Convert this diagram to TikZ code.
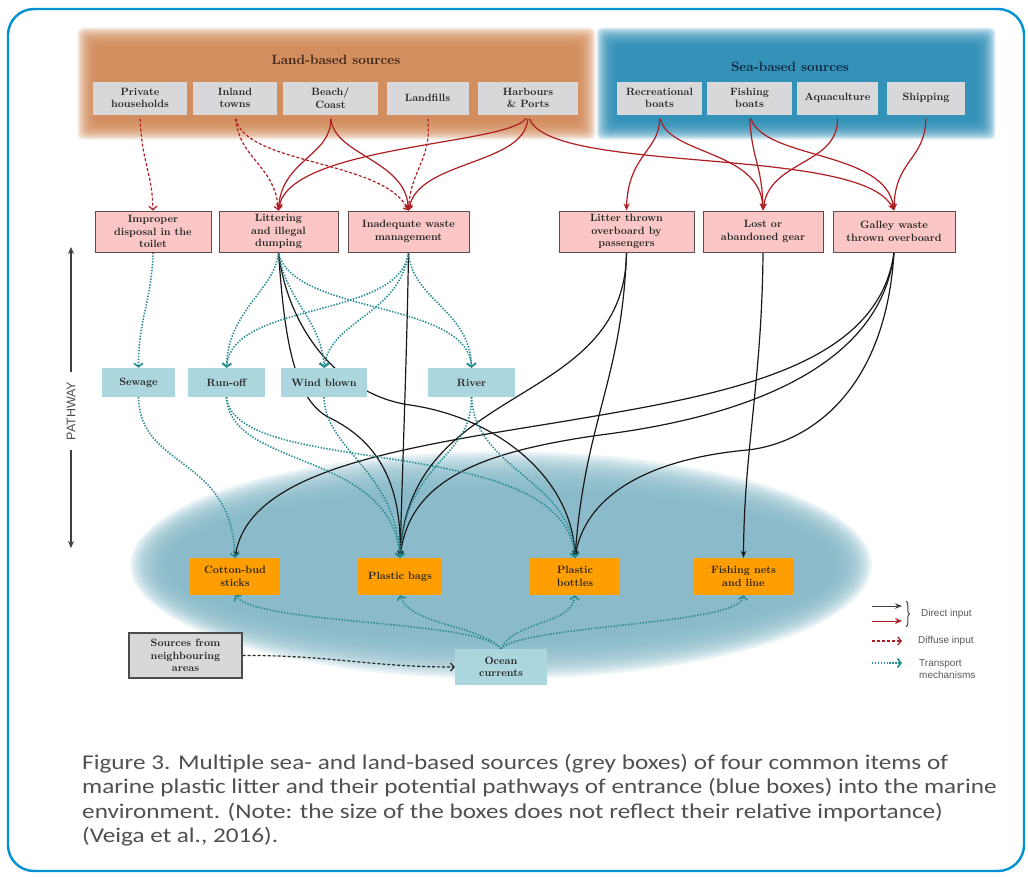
\documentclass[tikz,border=0pt]{standalone}
\usepackage{fontspec}
\usetikzlibrary{arrows.meta,decorations.pathreplacing}
\newfontfamily\capfont[FakeStretch=1.2]{Carlito}
\newfontfamily\legfont{Liberation Sans}
\definecolor{landc}{RGB}{210,138,88}
\definecolor{seac}{RGB}{42,142,182}
\definecolor{greyb}{RGB}{216,216,218}
\definecolor{pinkb}{RGB}{250,198,198}
\definecolor{pinkd}{RGB}{95,75,75}
\definecolor{pathb}{RGB}{172,214,222}
\definecolor{itemb}{RGB}{255,158,0}
\definecolor{ellc}{RGB}{135,187,202}
\definecolor{redl}{RGB}{175,30,35}
\definecolor{teall}{RGB}{40,140,145}
\definecolor{framec}{RGB}{0,145,210}
\definecolor{captc}{RGB}{80,80,80}
\definecolor{landt}{RGB}{60,35,20}
\definecolor{seat}{RGB}{15,35,60}
\newcommand\boxfont{\fontsize{10.6}{12.5}\selectfont\bfseries}
\pgfdeclarelayer{glow}
\pgfdeclarelayer{lines}
\pgfsetlayers{glow,lines,main}
\begin{document}
\begin{tikzpicture}[x=1pt,y=-1pt,
  box/.style={inner sep=1pt, align=center, font=\boxfont, text=black!85},
  src/.style={box, fill=greyb, minimum height=33pt},
  mech/.style={box, fill=pinkb, draw=pinkd, line width=1pt, minimum height=41pt},
  pathbox/.style={box, fill=pathb, minimum height=29pt},
  item/.style={box, fill=itemb, minimum height=37pt},
  direct/.style={black!90, line width=1.2pt, -{Stealth[length=7pt,width=5.5pt]}},
  dred/.style={redl, line width=1.2pt, shorten <=4pt, -{Stealth[length=7pt,width=6pt]}},
  diffuse/.style={redl, line width=1.2pt, shorten <=4pt, dash pattern=on 3pt off 2pt, -{Straight Barb[length=3.5pt,width=8pt]}},
  transport/.style={teall, line width=1.6pt, dash pattern=on 1.4pt off 1.5pt, -{Straight Barb[length=3.5pt,width=9pt]}},
  legtext/.style={font=\legfont\fontsize{10}{12}\selectfont, text=black!65, anchor=west, inner sep=0, align=left},
  axisline/.style={black!75, line width=1.3pt, -{Stealth[length=7pt,width=6pt]}}
]
\useasboundingbox (0,0) rectangle (1028,876);
\begin{pgfonlayer}{glow}
\fill[white] (0,0) rectangle (1028,876);
\foreach \i [evaluate=\i as \d using \i*1.3] in {0,...,15}{
  \fill[landc, fill opacity=0.16, rounded corners=6pt] (97-\d,47-\d) rectangle (576+\d,120+\d);
  \fill[seac, fill opacity=0.16, rounded corners=6pt] (616-\d,47-\d) rectangle (976+\d,120+\d);
}
\foreach \i [evaluate=\i as \d using \i*2] in {0,...,19}{
  \fill[ellc, fill opacity=0.13] (501,565) ellipse [x radius=333+\d, y radius=76+\d];
}
\end{pgfonlayer}
\draw[framec, line width=2.4pt, rounded corners=26pt] (8,9) rectangle (1024,871);

% titles
\node[font=\fontsize{13.5}{15}\selectfont\bfseries, text=landt] (landtitle) at (336,60) {Land-based sources};
\node[font=\fontsize{13.5}{15}\selectfont\bfseries, text=seat] (seatitle) at (790,67) {Sea-based sources};

% sources
\node[src, minimum width=94pt] (ph) at (140,98) {Private\\households};
\node[src, minimum width=84pt] (it) at (235,98) {Inland\\towns};
\node[src, minimum width=95pt] (bc) at (330.5,98) {Beach/\\Coast};
\node[src, minimum width=82pt] (lf) at (427.5,98) {Landfills};
\node[src, minimum width=100pt] (hp) at (528,98) {Harbours\\\& Ports};
\node[src, minimum width=85pt] (rb) at (659.5,98) {Recreational\\boats};
\node[src, minimum width=85pt] (fb) at (749.5,98) {Fishing\\boats};
\node[src, minimum width=81pt] (aq) at (837.5,98) {Aquaculture};
\node[src, minimum width=78pt] (sh) at (926,98) {Shipping};

% mechanisms
\node[mech, minimum width=116pt] (imp) at (153,231.5) {Improper\\disposal in the\\toilet};
\node[mech, minimum width=119pt] (lit) at (278.5,231.5) {Littering\\and illegal\\dumping};
\node[mech, minimum width=121pt] (inad) at (408.5,231.5) {Inadequate waste\\management};
\node[mech, minimum width=135pt] (ltp) at (626.5,231.5) {Litter thrown\\overboard by\\passengers};
\node[mech, minimum width=120pt] (lost) at (763,231.5) {Lost or\\abandoned gear};
\node[mech, minimum width=122pt] (gal) at (894,231.5) {Galley waste\\thrown overboard};

% pathways
\node[pathbox, minimum width=73pt] (sew) at (138.5,382.5) {Sewage};
\node[pathbox, minimum width=77pt] (run) at (226.5,382.5) {Run-off};
\node[pathbox, minimum width=86pt] (wind) at (324,382.5) {Wind blown};
\node[pathbox, minimum width=87pt] (riv) at (471.5,382.5) {River};

% items
\node[item, minimum width=90pt] (cot) at (235,576.5) {Cotton-bud\\sticks};
\node[item, minimum width=84pt] (bag) at (400,576.5) {Plastic bags};
\node[item, minimum width=90pt] (bot) at (575,576.5) {Plastic\\bottles};
\node[item, minimum width=101pt] (net) at (743.5,576.5) {Fishing nets\\and line};

\node[box, fill=greyb, draw=black!70, line width=1.2pt, minimum width=113pt, minimum height=45pt] (nbr) at (185.5,655.5) {Sources from\\neighbouring\\areas};
\node[pathbox, minimum width=92pt, minimum height=36pt] (oc) at (501,667) {Ocean\\currents};

\begin{pgfonlayer}{lines}
% diffuse (red dashed)
\draw[diffuse] (ph.south) .. controls (142,165) and (152,170) .. (imp.north);
\draw[diffuse] (it.south) .. controls (240,160) and (275,165) .. (lit.north);
\draw[diffuse] (it.south) .. controls (245,165) and (385,160) .. (inad.north);
\draw[diffuse] (lf.south) .. controls (432,160) and (410,170) .. (inad.north);
% direct red
\draw[dred] (bc.south) .. controls (332,155) and (282,160) .. (lit.north);
\draw[dred] (bc.south) .. controls (334,155) and (405,160) .. (inad.north);
\draw[dred] (hp.south) .. controls (510,145) and (290,145) .. (lit.north);
\draw[dred] (hp.south) .. controls (525,165) and (420,160) .. (inad.north);
\draw[dred] (hp.south) .. controls (550,175) and (860,145) .. (gal.north);
\draw[dred] (rb.south) .. controls (660,150) and (628,155) .. (ltp.north);
\draw[dred] (rb.south) .. controls (668,155) and (760,150) .. (lost.north);
\draw[dred] (fb.south) .. controls (752,160) and (762,165) .. (lost.north);
\draw[dred] (fb.south) .. controls (765,160) and (885,150) .. (gal.north);
\draw[dred] (aq.south) .. controls (838,165) and (770,160) .. (lost.north);
\draw[dred] (sh.south) .. controls (925,160) and (895,160) .. (gal.north);
% direct black
\draw[direct] (lit.south) .. controls (284,330) and (292,400) .. (330,418) .. controls (375,440) and (402,480) .. (bag.north);
\draw[direct] (lit.south) .. controls (288,330) and (340,395) .. (410,405) .. controls (500,418) and (572,480) .. (bot.north);
\draw[direct] (inad.south) .. controls (407,350) and (403,450) .. (bag.north);
\draw[direct] (ltp.south) .. controls (625,410) and (410,380) .. (bag.north);
\draw[direct] (ltp.south) .. controls (622,380) and (585,420) .. (bot.north);
\draw[direct] (lost.south) .. controls (762,380) and (744,450) .. (net.north);
\draw[direct] (gal.south) .. controls (878,370) and (720,395) .. (560,422) .. controls (400,448) and (250,470) .. (cot.north);
\draw[direct] (gal.south) .. controls (882,360) and (760,415) .. (600,435) .. controls (480,452) and (410,480) .. (bag.north);
\draw[direct] (gal.south) .. controls (885,400) and (800,445) .. (747,450) .. controls (640,460) and (585,500) .. (bot.north);
% transport
\draw[transport] (imp.south) .. controls (152,300) and (138,320) .. (sew.north);
\draw[transport] (lit.south) .. controls (275,290) and (228,310) .. (run.north);
\draw[transport] (lit.south) .. controls (285,300) and (322,320) .. (wind.north);
\draw[transport] (lit.south) .. controls (292,315) and (468,300) .. (riv.north);
\draw[transport] (inad.south) .. controls (400,320) and (232,300) .. (run.north);
\draw[transport] (inad.south) .. controls (400,315) and (330,320) .. (wind.north);
\draw[transport] (inad.south) .. controls (412,300) and (470,310) .. (riv.north);
\draw[transport] (sew.south) .. controls (140,470) and (232,455) .. (cot.north);
\draw[transport] (run.south) .. controls (230,470) and (392,450) .. (bag.north);
\draw[transport] (run.south) .. controls (235,480) and (565,430) .. (bot.north);
\draw[transport] (wind.south) .. controls (325,450) and (396,470) .. (bag.north);
\draw[transport] (riv.south) .. controls (472,460) and (405,460) .. (bag.north);
\draw[transport] (riv.south) .. controls (475,470) and (572,480) .. (bot.north);
\draw[transport] (oc.north) .. controls (480,620) and (260,625) .. (cot.south);
\draw[transport] (oc.north) .. controls (480,625) and (410,625) .. (bag.south);
\draw[transport] (oc.north) .. controls (515,620) and (572,625) .. (bot.south);
\draw[transport] (oc.north) .. controls (522,625) and (740,625) .. (net.south);
% neighbouring
\draw[black!85, line width=1.2pt, dash pattern=on 3pt off 2pt, -{Straight Barb[length=3.5pt,width=8pt]}] (nbr.east) .. controls (330,655) and (370,667) .. (oc.west);
\end{pgfonlayer}

% pathway axis
\node[rotate=90, font=\legfont\fontsize{12.5}{14}\selectfont, text=black!70, inner xsep=10pt, inner ysep=0pt] (pw) at (71,411) {PATHWAY};
\coordinate (pwtop) at (71,247);
\coordinate (pwbot) at (71,548);
\draw[axisline] (pw.east) -- (pwtop);
\draw[axisline] (pw.west) -- (pwbot);

% legend
\coordinate (l1a) at (872,606); \coordinate (l1b) at (902,606);
\coordinate (l2a) at (872,621); \coordinate (l2b) at (902,621);
\coordinate (l3a) at (872,641); \coordinate (l3b) at (902,641);
\coordinate (l4a) at (872,663); \coordinate (l4b) at (902,663);
\coordinate (bra) at (906,601); \coordinate (brb) at (906,627);
\draw[direct, black!75, line width=1pt] (l1a) -- (l1b);
\draw[dred, shorten <=0pt, line width=1pt] (l2a) -- (l2b);
\draw[black!75, line width=1pt, decorate, decoration={brace, amplitude=3.5pt}] (bra) -- (brb);
\draw[diffuse, shorten <=0pt] (l3a) -- (l3b);
\draw[transport] (l4a) -- (l4b);
\node[legtext] (lg1) at (921,614) {Direct input};
\node[legtext] (lg2) at (918,641) {Diffuse input};
\node[legtext] (lg3) at (919,669.5) {Transport\\mechanisms};

% caption
\node[anchor=base west, inner sep=0, font=\capfont\fontsize{21}{24}\selectfont, text=captc] (c1) at (82,769) {Figure 3. Multiple sea- and land-based sources (grey boxes) of four common items of};
\node[anchor=base west, inner sep=0, font=\capfont\fontsize{21}{24}\selectfont, text=captc] (c2) at (82,793.5) {marine plastic litter and their potential pathways of entrance (blue boxes) into the marine};
\node[anchor=base west, inner sep=0, font=\capfont\fontsize{21}{24}\selectfont, text=captc] (c3) at (82,818) {environment. (Note: the size of the boxes does not reflect their relative importance)};
\node[anchor=base west, inner sep=0, font=\capfont\fontsize{21}{24}\selectfont, text=captc] (c4) at (82,842.5) {(Veiga et al., 2016).};
\end{tikzpicture}
\end{document}
